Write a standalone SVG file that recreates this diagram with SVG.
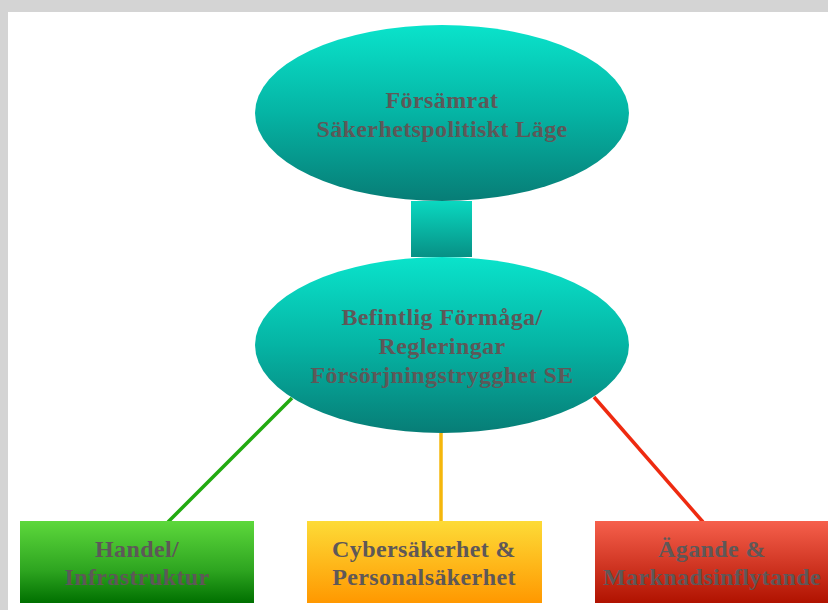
<svg xmlns="http://www.w3.org/2000/svg" width="828" height="610" viewBox="0 0 828 610">
<defs>
<linearGradient id="teal" x1="0" y1="0" x2="0" y2="1">
<stop offset="0" stop-color="#0ae3cb"/>
<stop offset="0.5" stop-color="#05b4a4"/>
<stop offset="1" stop-color="#077d76"/>
</linearGradient>
<linearGradient id="tealRev" x1="0" y1="0" x2="0" y2="1">
<stop offset="0" stop-color="#0ad8c0"/>
<stop offset="1" stop-color="#079085"/>
</linearGradient>
<linearGradient id="green" x1="0" y1="0" x2="0" y2="1">
<stop offset="0" stop-color="#5dd83c"/>
<stop offset="0.6" stop-color="#2ea520"/>
<stop offset="1" stop-color="#007000"/>
</linearGradient>
<linearGradient id="yellow" x1="0" y1="0" x2="0" y2="1">
<stop offset="0" stop-color="#fddb37"/>
<stop offset="1" stop-color="#ff9800"/>
</linearGradient>
<linearGradient id="red" x1="0" y1="0" x2="0" y2="1">
<stop offset="0" stop-color="#f6604c"/>
<stop offset="1" stop-color="#b01200"/>
</linearGradient>
</defs>
<style>
.t{font-family:"Liberation Serif","Times New Roman",serif;font-weight:bold;font-size:24px;letter-spacing:0.4px;fill:#5e5858;text-anchor:middle}
.c{stroke-width:3.5;fill:none}
</style>
<rect x="0" y="0" width="828" height="610" fill="#d4d4d4"/>
<rect x="8" y="12" width="820" height="598" fill="#ffffff"/>
<g id="connectors">
<rect x="411" y="201" width="61" height="56" fill="url(#tealRev)"/>
<line class="c" x1="292" y1="398" x2="168" y2="522" stroke="#22aa10"/>
<line class="c" x1="441" y1="433" x2="441" y2="522" stroke="#f5b70c"/>
<line class="c" x1="594" y1="397" x2="703" y2="522" stroke="#ee2a10"/>
</g>
<g id="n1">
<ellipse cx="442" cy="113" rx="187" ry="88" fill="url(#teal)"/>
<text class="t" x="442" y="108">Försämrat</text>
<text class="t" x="442" y="137">Säkerhetspolitiskt Läge</text>
</g>
<g id="n2">
<ellipse cx="442" cy="345" rx="187" ry="88" fill="url(#teal)"/>
<text class="t" x="442" y="325">Befintlig Förmåga/</text>
<text class="t" x="442" y="354">Regleringar</text>
<text class="t" x="442" y="383">Försörjningstrygghet SE</text>
</g>
<g id="n3">
<rect x="20" y="521" width="234" height="82" fill="url(#green)"/>
<text class="t" x="137" y="557">Handel/</text>
<text class="t" x="137" y="585">Infrastruktur</text>
</g>
<g id="n4">
<rect x="307" y="521" width="235" height="82" fill="url(#yellow)"/>
<text class="t" x="424" y="557">Cybersäkerhet &amp;</text>
<text class="t" x="424" y="585">Personalsäkerhet</text>
</g>
<g id="n5">
<rect x="595" y="521" width="235" height="82" fill="url(#red)"/>
<text class="t" x="712" y="557">Ägande &amp;</text>
<text class="t" x="712" y="585">Marknadsinflytande</text>
</g>
</svg>
